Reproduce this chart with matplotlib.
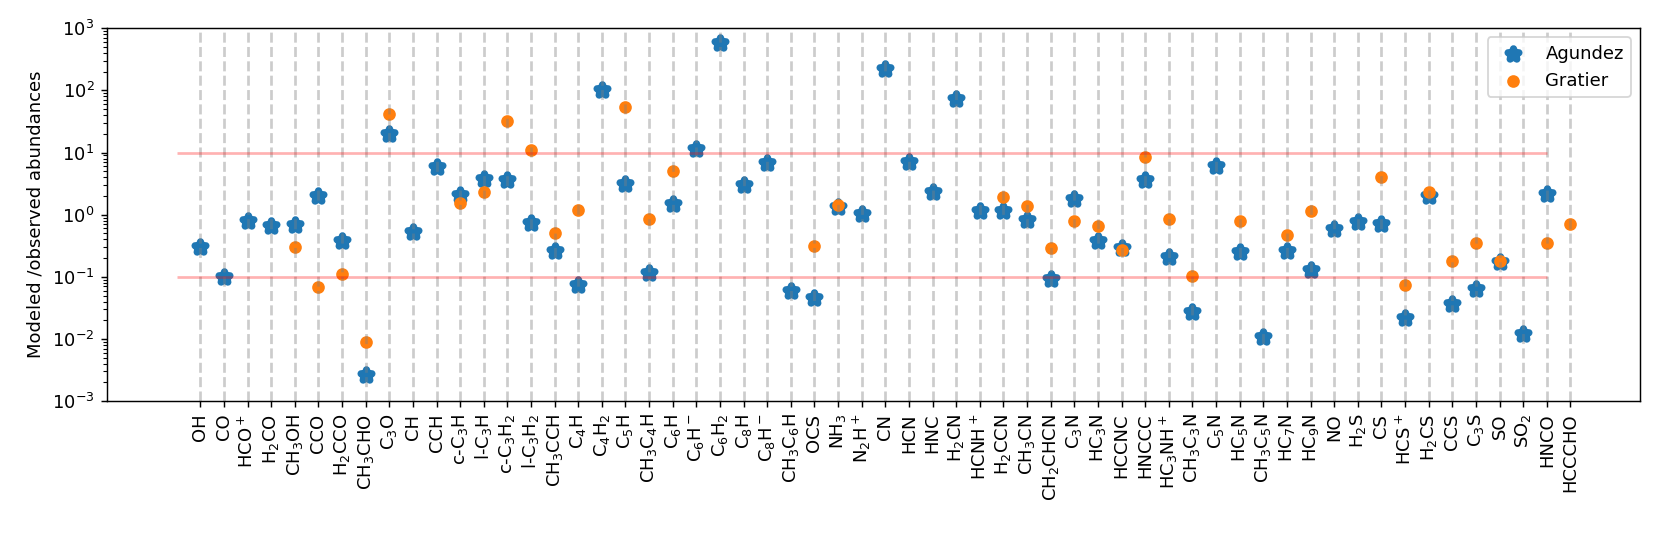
import numpy as np
import matplotlib
matplotlib.use("Agg")
import matplotlib.pyplot as plt

nan = np.nan
species = ["OH", "CO", "HCO$^+$", "H$_2$CO", "CH$_3$OH", "CCO", "H$_2$CCO", "CH$_3$CHO",
           "C$_3$O", "CH", "CCH", "c-C$_3$H", "l-C$_3$H", "c-C$_3$H$_2$", "l-C$_3$H$_2$",
           "CH$_3$CCH", "C$_4$H", "C$_4$H$_2$", "C$_5$H", "CH$_3$C$_4$H", "C$_6$H", "C$_6$H$^-$",
           "C$_6$H$_2$", "C$_8$H", "C$_8$H$^-$", "CH$_3$C$_6$H", "OCS", "NH$_3$", "N$_2$H$^+$",
           "CN", "HCN", "HNC", "H$_2$CN", "HCNH$^+$", "H$_2$CCN", "CH$_3$CN", "CH$_2$CHCN",
           "C$_3$N", "HC$_3$N", "HCCNC", "HNCCC", "HC$_3$NH$^+$", "CH$_3$C$_3$N", "C$_5$N",
           "HC$_5$N", "CH$_3$C$_5$N", "HC$_7$N", "HC$_9$N", "NO", "H$_2$S", "CS", "HCS$^+$",
           "H$_2$CS", "CCS", "C$_3$S", "SO", "SO$_2$", "HNCO", "HCCCHO"]

agundez = [0.30, 0.10, 0.78, 0.65, 0.68, 1.99, 0.38, 0.0026,
           19.9, 0.53, 5.9, 2.05, 3.8, 3.68, 0.74,
           0.26, 0.074, 100, 3.16, 0.115, 1.5, 11.4,
           573, 2.98, 6.9, 0.060, 0.046, 1.35, 1.02,
           220, 7.1, 2.29, 74, 1.16, 1.14, 0.81, 0.091,
           1.81, 0.38, 0.29, 3.55, 0.206, 0.027, 6.0,
           0.25, 0.0108, 0.26, 0.13, 0.59, 0.77, 0.72, 0.022,
           2.0, 0.037, 0.063, 0.175, 0.0118, 2.16, nan]

gratier = [nan, nan, nan, nan, 0.30, 0.068, 0.11, 0.009,
           42, nan, nan, 1.52, 2.29, 32, 11.1,
           0.50, 1.17, nan, 54.6, 0.86, 4.98, nan,
           nan, nan, nan, nan, 0.316, 1.44, nan,
           nan, nan, nan, nan, nan, 1.96, 1.38, 0.295,
           0.78, 0.65, 0.275, 8.4, 0.84, 0.103, nan,
           0.80, nan, 0.475, 1.14, nan, nan, 4.1, 0.073,
           2.29, 0.18, 0.354, 0.18, nan, 0.354, 0.72]

x = np.arange(len(species))

DPI = 130
fig, ax = plt.subplots(figsize=(1661/DPI, 554/DPI), dpi=DPI)
fig.subplots_adjust(left=0.0644, right=0.9874, top=0.949, bottom=0.276)

ax.scatter(x, agundez, marker="*", s=40, linewidths=4.0, color="C0", label="Agundez")
ax.scatter(x, gratier, marker="o", s=36, color="C1", label="Gratier")
for xi in x:
    ax.axvline(xi, color="gray", linestyle="--", alpha=0.4)
ax.hlines([10, 0.1], -1, len(species) - 2, color="red", alpha=0.3)

ax.set_yscale("log")
ax.set_ylim(1e-3, 1e3)
ax.set_xticks(x)
ax.set_xticklabels(species, rotation=90)
ax.set_ylabel("Modeled /observed abundances")
ax.legend(loc="upper right")

fig.savefig("out.png", dpi=DPI)
